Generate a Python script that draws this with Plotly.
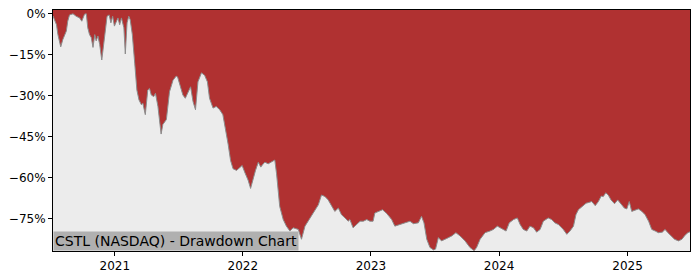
import plotly.graph_objects as go

dates = [
    "2020-07-09", "2020-07-19", "2020-07-23", "2020-07-31", "2020-08-06", "2020-08-11", "2020-08-16",
    "2020-08-20", "2020-08-25", "2020-09-04", "2020-09-13", "2020-09-23", "2020-09-29", "2020-10-07",
    "2020-10-12", "2020-10-16", "2020-10-21", "2020-10-26", "2020-10-31", "2020-11-05", "2020-11-09",
    "2020-11-14", "2020-11-19", "2020-11-25", "2020-11-30", "2020-12-05", "2020-12-10", "2020-12-16",
    "2020-12-21", "2020-12-26", "2020-12-31",
    "2021-01-06", "2021-01-10", "2021-01-15", "2021-01-20", "2021-01-27", "2021-01-31", "2021-02-05",
    "2021-02-10", "2021-02-14", "2021-02-20", "2021-02-27", "2021-03-05", "2021-03-11", "2021-03-18",
    "2021-03-22", "2021-03-29", "2021-04-05", "2021-04-10", "2021-04-15", "2021-04-22", "2021-04-27",
    "2021-05-04", "2021-05-13", "2021-05-18", "2021-05-28", "2021-06-06", "2021-06-16", "2021-06-25",
    "2021-06-29", "2021-07-05", "2021-07-14", "2021-07-21", "2021-07-29", "2021-08-05", "2021-08-12",
    "2021-08-19", "2021-08-26", "2021-09-05", "2021-09-14", "2021-09-22", "2021-09-28", "2021-10-08",
    "2021-10-17", "2021-10-27", "2021-11-05", "2021-11-12", "2021-11-20", "2021-11-27", "2021-12-04",
    "2021-12-14", "2021-12-23", "2021-12-30",
    "2022-01-06", "2022-01-16", "2022-01-23", "2022-01-30", "2022-02-06", "2022-02-14", "2022-02-21",
    "2022-02-28", "2022-03-05", "2022-03-14", "2022-03-24", "2022-04-02", "2022-04-07", "2022-04-16",
    "2022-04-26", "2022-05-05", "2022-05-15", "2022-05-24", "2022-06-08", "2022-06-17", "2022-06-27",
    "2022-07-11", "2022-07-25", "2022-08-04", "2022-08-13", "2022-08-23", "2022-09-01", "2022-09-11",
    "2022-09-20", "2022-09-30", "2022-10-09", "2022-10-19", "2022-10-28", "2022-11-02", "2022-11-11",
    "2022-11-21", "2022-12-01", "2022-12-10", "2022-12-20", "2022-12-29",
    "2023-01-07", "2023-01-12", "2023-02-03", "2023-02-15", "2023-03-01", "2023-03-10", "2023-03-25",
    "2023-04-13", "2023-04-22", "2023-05-02", "2023-05-16", "2023-05-25", "2023-06-01", "2023-06-09",
    "2023-06-18", "2023-06-28", "2023-07-04", "2023-07-12", "2023-07-21", "2023-08-05", "2023-08-19",
    "2023-08-31", "2023-09-12", "2023-09-26", "2023-10-10", "2023-10-22", "2023-10-29", "2023-11-08",
    "2023-11-22", "2023-12-06", "2023-12-16", "2023-12-27",
    "2024-01-09", "2024-01-21", "2024-01-30", "2024-02-11", "2024-02-22", "2024-03-01", "2024-03-10",
    "2024-03-20", "2024-03-29", "2024-04-08", "2024-04-17", "2024-04-27", "2024-05-06", "2024-05-20",
    "2024-05-30", "2024-06-08", "2024-06-18", "2024-07-02", "2024-07-12", "2024-07-21", "2024-07-31",
    "2024-08-07", "2024-08-14", "2024-08-24", "2024-09-05", "2024-09-11", "2024-09-21", "2024-10-01",
    "2024-10-10", "2024-10-18", "2024-10-24", "2024-10-31", "2024-11-07", "2024-11-15", "2024-11-25",
    "2024-12-04", "2024-12-14", "2024-12-23", "2024-12-30",
    "2025-01-06", "2025-01-13", "2025-01-23", "2025-02-01", "2025-02-11", "2025-02-20", "2025-03-02",
    "2025-03-11", "2025-03-21", "2025-03-30", "2025-04-10", "2025-04-18", "2025-04-26", "2025-05-05",
    "2025-05-15", "2025-05-26", "2025-06-05", "2025-06-14", "2025-06-22", "2025-06-28",
]

drawdown = [
    -0.8, -4.0, -7.6, -12.1, -9.4, -7.6, -6.3,
    -2.7, -0.4, 0.0, -0.9, -1.5, -2.7, -0.1,
    0.0, -5.1, -7.6, -8.7, -12.3, -7.6, -9.9,
    -8.1, -11.2, -16.9, -12.3, -6.3, -0.9, -0.4,
    -3.3, -0.9, -4.5,
    -2.7, -1.5, -4.0, -1.5, -5.1, -14.7, -3.3,
    -0.9, -2.2, -7.6, -18.3, -27.9, -31.5, -33.3,
    -32.7, -36.9, -27.9, -27.3, -29.7, -30.3, -29.1,
    -33.9, -44.0, -40.5, -38.7, -28.5, -24.3, -22.8,
    -23.1, -25.5, -29.7, -30.9, -28.5, -26.7, -32.1,
    -35.1, -24.9, -21.6, -22.5, -24.9, -30.9, -34.5,
    -33.9, -35.1, -36.9, -41.7, -47.7, -53.7, -56.7,
    -57.3, -56.1, -55.5,
    -57.9, -60.9, -63.9, -60.3, -57.3, -54.3, -56.1,
    -54.9, -54.3, -54.9, -54.3, -53.5, -58.5, -70.5,
    -75.3, -77.7, -79.5, -78.3, -78.9, -82.5, -77.7,
    -74.7, -71.7, -69.9, -66.3, -66.9, -68.1, -70.5,
    -72.3, -71.1, -73.5, -74.7, -75.9, -75.3, -78.3,
    -77.1, -75.9, -75.9, -75.3, -75.9,
    -75.9, -72.9, -71.7, -73.1, -75.3, -77.7, -77.1,
    -76.5, -75.9, -76.8, -76.5, -74.1, -76.5, -82.5,
    -85.5, -86.4, -86.1, -81.9, -83.1, -82.2, -81.3,
    -80.1, -81.3, -83.1, -85.5, -86.7, -85.5, -82.5,
    -80.1, -79.5, -78.9, -77.7,
    -78.6, -79.5, -76.5, -75.3, -74.7, -77.1, -78.9,
    -79.5, -77.7, -78.3, -79.9, -78.9, -75.9, -74.7,
    -75.3, -76.5, -77.1, -78.9, -80.7, -79.5, -77.7,
    -73.5, -71.7, -70.5, -69.3, -69.1, -68.7, -70.2,
    -68.7, -66.7, -66.9, -65.5, -66.3, -68.1, -69.5,
    -68.1, -69.9, -71.1, -71.4,
    -68.7, -72.3, -71.7, -71.4, -72.3, -73.5, -75.9,
    -78.9, -79.5, -80.1, -79.9, -78.9, -80.1, -81.3,
    -82.5, -83.1, -82.5, -81.0, -80.1, -79.8,
]

y_tick_vals = [0, -15, -30, -45, -60, -75]
y_tick_text = ["0%", "\u221215%", "\u221230%", "\u221245%", "\u221260%", "\u221275%"]
x_tick_vals = ["2021-01-01", "2022-01-01", "2023-01-01", "2024-01-01", "2025-01-01"]
x_tick_text = ["2021", "2022", "2023", "2024", "2025"]
label_text = "CSTL (NASDAQ) - Drawdown Chart"

Y_MIN, Y_MAX = -86.8, 1.4
RED = "#b03131"
LIGHT = "#ececec"

fig = go.Figure()
fig.add_trace(go.Scatter(
    x=dates, y=[Y_MIN] * len(dates), mode="lines",
    line=dict(width=0, color=LIGHT), hoverinfo="skip", showlegend=False,
))
fig.add_trace(go.Scatter(
    x=dates, y=drawdown, mode="lines", fill="tonexty", fillcolor=LIGHT,
    line=dict(color="#8c8c8c", width=1), showlegend=False,
))

fig.update_layout(
    width=700, height=280,
    margin=dict(l=53, r=10, t=7, b=28),
    paper_bgcolor="white", plot_bgcolor=RED,
    font=dict(family="DejaVu Sans", size=12, color="black"),
    showlegend=False,
)
fig.update_xaxes(
    range=[dates[0], dates[-1]], tickvals=x_tick_vals, ticktext=x_tick_text,
    showgrid=False, zeroline=False, showline=True, linecolor="black", linewidth=1, mirror=True,
    ticks="outside", ticklen=4, tickcolor="black",
)
fig.update_yaxes(
    range=[Y_MIN, Y_MAX], tickvals=y_tick_vals, ticktext=y_tick_text,
    showgrid=False, zeroline=False, showline=True, linecolor="black", linewidth=1, mirror=True,
    ticks="outside", ticklen=4, tickcolor="black",
)
fig.add_annotation(
    text=label_text, xref="paper", yref="paper", x=0, y=0,
    xanchor="left", yanchor="bottom", showarrow=False,
    bgcolor="#b0b0b0", borderpad=1,
    font=dict(family="DejaVu Sans", size=14, color="black"),
)

fig.write_html("out.html")
